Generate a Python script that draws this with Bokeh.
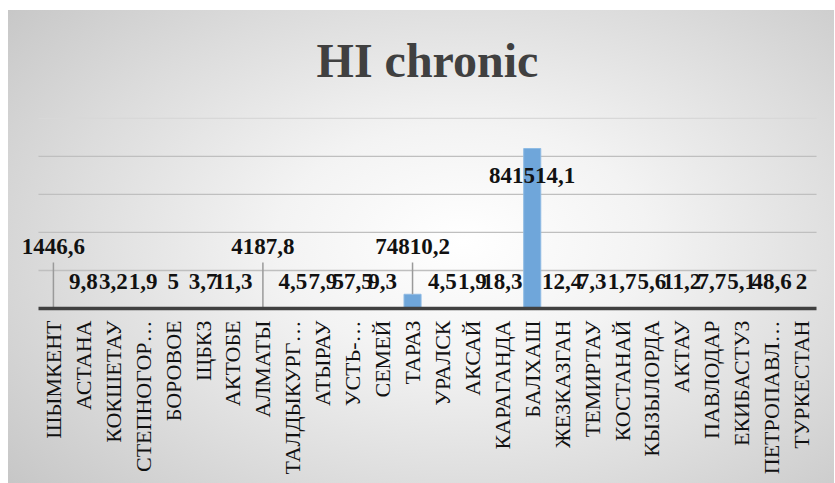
import math
from bokeh.plotting import figure
from bokeh.models import ColumnDataSource, Range1d, FactorRange
from bokeh.embed import file_html
from bokeh.resources import INLINE
from bokeh.core.properties import value

# ---- data ----
categories = ["ШЫМКЕНТ", "АСТАНА", "КОКШЕТАУ", "СТЕПНОГОР…", "БОРОВОЕ", "ЩБКЗ",
              "АКТОБЕ", "АЛМАТЫ", "ТАЛДЫКУРГ…", "АТЫРАУ", "УСТЬ-…", "СЕМЕЙ",
              "ТАРАЗ", "УРАЛСК", "АКСАЙ", "КАРАГАНДА", "БАЛХАШ", "ЖЕЗКАЗГАН",
              "ТЕМИРТАУ", "КОСТАНАЙ", "КЫЗЫЛОРДА", "АКТАУ", "ПАВЛОДАР",
              "ЕКИБАСТУЗ", "ПЕТРОПАВЛ…", "ТУРКЕСТАН"]
hi_values = [1446.6, 9.8, 3.2, 1.9, 5, 3.7, 11.3, 4187.8, 4.5, 7.9, 57.5, 9.3,
             74810.2, 4.5, 1.9, 18.3, 841514.1, 12.4, 7.3, 1.7, 5.6, 11.2, 7.7,
             5.1, 48.6, 2]
grid_ticks = [200000, 400000, 600000, 800000]
y_max = 1000000
title_text = "HI chronic"


def fmt(v):
    if float(v) == int(v):
        return str(int(v))
    return f"{v:.1f}".replace(".", ",")


# label placement (mimics the Excel data-label layout)
def label_y(v):
    if v > 500000:
        return v - 141500
    if v > 1000:
        return 326000
    return 142000


labels = [fmt(v) for v in hi_values]
ly = [label_y(v) for v in hi_values]
n = len(categories)

src = ColumnDataSource(dict(cat=categories, v=hi_values, lbl=labels, ly=ly))
lead_idx = [i for i, v in enumerate(hi_values) if 1000 < v <= 500000]
lead_src = ColumnDataSource(dict(cat=[categories[i] for i in lead_idx],
                                 v=[hi_values[i] for i in lead_idx],
                                 top=[242000] * len(lead_idx)))
grid_src = ColumnDataSource(dict(y=grid_ticks))

p = figure(x_range=FactorRange(*categories, range_padding=0.6,
                               range_padding_units="absolute"),
           y_range=Range1d(0, 1010000),
           frame_width=814, frame_height=192,
           min_border_left=12, min_border_right=0, min_border_top=116,
           min_border_bottom=175,
           output_backend="svg", toolbar_location=None,
           background_fill_color=None, border_fill_color=None,
           outline_line_color=None)

p.styles = {
    "margin-left": "8px",
    "background": "linear-gradient(#ffffff 0px, #ffffff 10px, transparent 10px), radial-gradient(ellipse 75% 80% at 55% 50%, #ffffff 0%, #f3f3f3 30%, #dcdcdc 65%, #c4c4c4 100%)",
}

# title
p.title.text = title_text
p.title.text_font = "Times New Roman"
p.title.text_font_style = "bold"
p.title.text_font_size = "48px"
p.title.text_color = "#404040"
p.title.align = "center"
p.title.offset = 10
p.title.standoff = 60

# grid (drawn across the category span only) / axes
p.xgrid.visible = False
p.ygrid.visible = False
p.yaxis.visible = False
p.segment(x0=0, x1=n, y0="y", y1="y", source=grid_src,
          line_color="#bfbfbf", line_width=1.3)
p.segment(x0=0, x1=n, y0=y_max, y1=y_max, line_color="#d8d8d8", line_width=1.2)

p.xaxis.bounds = (0, n)
p.xaxis.major_label_orientation = math.pi / 2
p.xaxis.major_label_text_font = "Liberation Serif"
p.xaxis.major_label_text_font_size = "22px"
p.xaxis.major_label_text_color = "#111111"
p.xaxis.major_tick_line_color = None
p.xaxis.minor_tick_line_color = None
p.xaxis.axis_line_color = "#404040"
p.xaxis.axis_line_width = 3.5
p.xaxis.major_label_standoff = 6

# bars
p.vbar(x="cat", top="v", width=0.57, source=src,
       fill_color="#6fa6da", line_color="#8fbbe4", line_width=1)

# leader lines
p.segment(x0="cat", y0="v", x1="cat", y1="top", source=lead_src,
          line_color="#9a9a9a", line_width=1.5)

# data labels
p.text(x="cat", y="ly", text="lbl", source=src,
       text_font=value("Times New Roman"), text_font_style="bold",
       text_font_size="23px", text_align="center", text_baseline="middle",
       text_color="#111111")

open("out.html", "w").write(file_html(p, INLINE))
